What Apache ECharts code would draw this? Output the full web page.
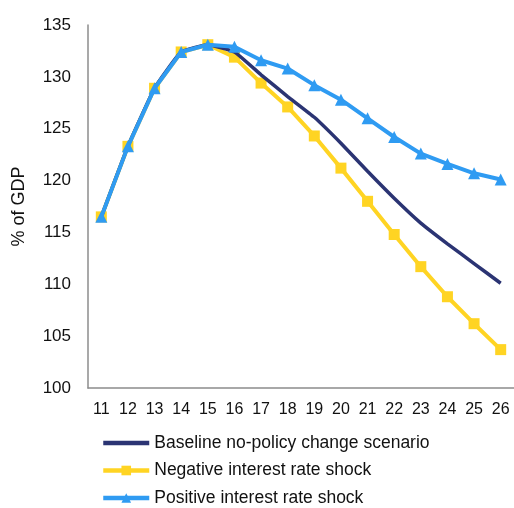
<!DOCTYPE html>
<html><head><meta charset="utf-8">
<script src="https://cdn.jsdelivr.net/npm/echarts@6/dist/echarts.min.js"></script>
<style>html,body{margin:0;padding:0;background:#fff}#c{width:514px;height:508px}</style>
</head><body><div id="c"></div>
<script>
const categories = ['11','12','13','14','15','16','17','18','19','20','21','22','23','24','25','26'];
const baseline = [116.5,123.3,128.9,132.4,133.1,132.4,130.2,128.1,126.1,123.6,120.9,118.3,115.9,113.9,112.0,110.1];
const negativeShock = [116.5,123.3,128.9,132.4,133.1,131.9,129.4,127.1,124.3,121.2,118.0,114.8,111.7,108.8,106.2,103.7];
const positiveShock = [116.5,123.3,128.9,132.4,133.1,132.9,131.6,130.8,129.2,127.8,126.0,124.2,122.6,121.6,120.7,120.1];
const seriesNames = ['Baseline no-policy change scenario','Negative interest rate shock','Positive interest rate shock'];

const chart = echarts.init(document.getElementById('c'), null, {renderer:'canvas'});
const font = 'Liberation Sans, Arial, sans-serif';
chart.setOption({
  animation:false,
  textStyle:{fontFamily:font},
  grid:{left:88,right:-2,top:25,bottom:120,containLabel:false},
  legend:{
    orient:'vertical',left:101,top:434,height:120,padding:0,itemWidth:46,itemHeight:12,itemGap:9.5,
    itemTextGap:4,
    textStyle:{fontSize:17.5,lineHeight:16,color:'#111',fontFamily:font},
    lineStyle:{width:4.5},
    data:[
      {name:seriesNames[0],itemStyle:{opacity:0,color:'rgba(0,0,0,0)',borderWidth:0}},
      {name:seriesNames[1]},
      {name:seriesNames[2]}
    ]
  },
  xAxis:{
    type:'category',data:categories,boundaryGap:true,
    axisLine:{lineStyle:{color:'#8c8c8c',width:1.5}},
    axisTick:{show:false},
    axisLabel:{color:'#111',fontSize:16,margin:14,fontFamily:font}
  },
  yAxis:{
    type:'value',min:100,max:135,interval:5,
    name:'% of GDP',nameLocation:'middle',nameGap:60,nameRotate:90,
    nameTextStyle:{fontSize:18,color:'#111',fontFamily:font},
    axisLine:{show:true,lineStyle:{color:'#8c8c8c',width:1.5}},
    axisTick:{show:false},splitLine:{show:false},
    axisLabel:{color:'#111',fontSize:17,margin:17,fontFamily:font}
  },
  series:[
    {name:seriesNames[0],type:'line',data:baseline,smooth:0.12,showSymbol:false,symbol:'none',
     lineStyle:{color:'#2b3473',width:3.5},itemStyle:{color:'#2b3473'},z:3},
    {name:seriesNames[1],type:'line',data:negativeShock,symbol:'rect',symbolSize:11,
     lineStyle:{color:'#ffd423',width:4},itemStyle:{color:'#ffd423'},z:2},
    {name:seriesNames[2],type:'line',data:positiveShock,symbol:'triangle',symbolSize:12,
     lineStyle:{color:'#2f9bf2',width:4},itemStyle:{color:'#2f9bf2'},z:4}
  ]
});
</script></body></html>
